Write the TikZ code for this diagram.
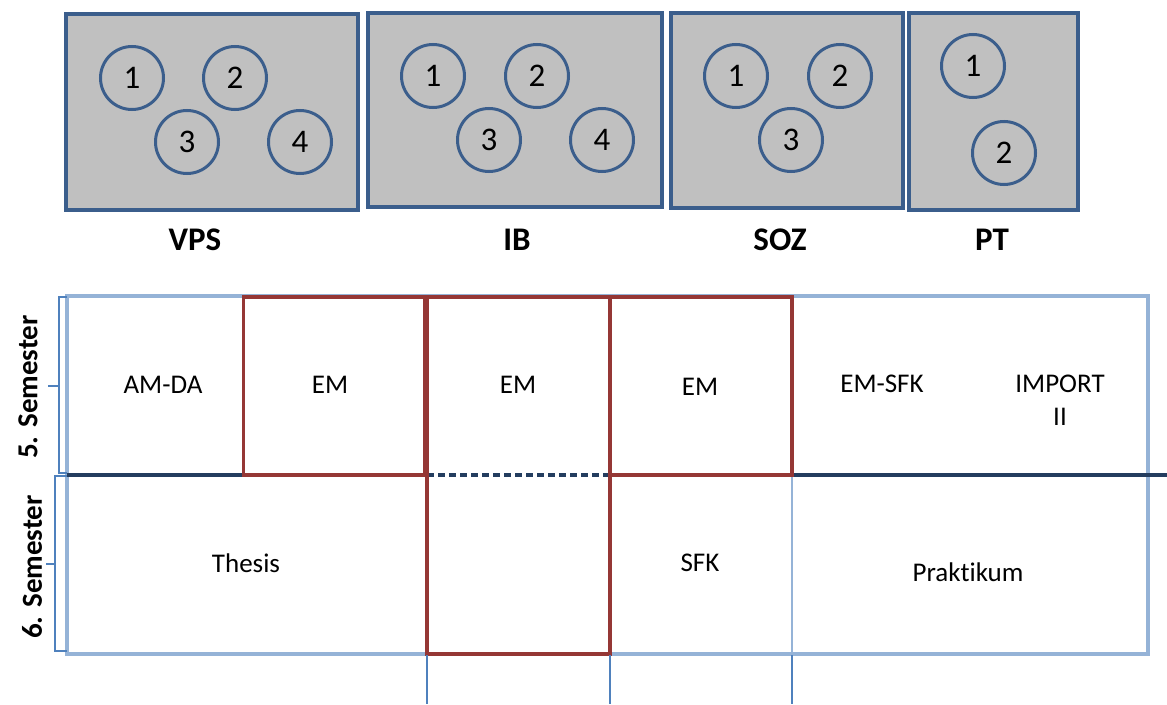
\documentclass[tikz,border=0pt]{standalone}
\usepackage{fontspec}
\setmainfont{Carlito}[Ligatures=NoCommon]
\usetikzlibrary{positioning}
\definecolor{fakblau}{RGB}{59,94,140}
\definecolor{fakgrau}{RGB}{192,192,192}
\definecolor{hellblau}{RGB}{149,179,215}
\definecolor{mittelblau}{RGB}{79,129,189}
\definecolor{dunkelblau}{RGB}{36,61,95}
\definecolor{emrot}{RGB}{149,55,53}

\begin{document}
\begin{tikzpicture}[x=1pt,y=-1pt]
\tikzstyle{fak}=[rectangle,draw=fakblau,fill=fakgrau,line width=4pt,inner sep=0pt]
\tikzstyle{modul}=[circle,draw=fakblau,line width=3pt,minimum size=63pt,inner sep=0pt,font=\fontsize{33}{36}\selectfont]
\tikzstyle{fakname}=[font=\bfseries\fontsize{33}{36}\selectfont]
\tikzstyle{zelle}=[font=\fontsize{27}{33}\selectfont,align=center]
\tikzstyle{em}=[rectangle,draw=emrot,line width=3.5pt,inner sep=0pt]
\tikzstyle{sem}=[font=\bfseries\fontsize{29}{32}\selectfont,rotate=90]
\tikzstyle{klammer}=[draw=mittelblau,line width=1.5pt]

\useasboundingbox (0,0) rectangle (1167,704);

\node[fak,minimum width=292,minimum height=196] (vps) at (212,112) {};
\node[fak,minimum width=294,minimum height=194] (ib) at (515,110) {};
\node[fak,minimum width=232,minimum height=195] (soz) at (787,110) {};
\node[fak,minimum width=169,minimum height=197] (pt) at (993.5,111.5) {};

\node[modul] (vps1) at (132,78) {1};
\node[modul] (vps2) at (235,78) {2};
\node[modul] (vps3) at (187,142) {3};
\node[modul] (vps4) at (300,142) {4};
\node[modul] (ib1) at (433,76) {1};
\node[modul] (ib2) at (537,76) {2};
\node[modul] (ib3) at (489,140) {3};
\node[modul] (ib4) at (602,140) {4};
\node[modul] (soz1) at (736,76) {1};
\node[modul] (soz2) at (840,76) {2};
\node[modul] (soz3) at (791,140) {3};
\node[modul] (pt1) at (973,66) {1};
\node[modul] (pt2) at (1004,153) {2};

\node[fakname] (vpsname) at (195,240) {VPS};
\node[fakname] (ibname) at (517,240) {IB};
\node[fakname] (sozname) at (780,240) {SOZ};
\node[fakname] (ptname) at (992,240) {PT};

\node[rectangle,draw=hellblau,line width=3.5pt,minimum width=1081,minimum height=358,inner sep=0pt] (plan) at (607.5,475) {};
\draw[hellblau,line width=1.5pt] (792,475) -- (792,655);
\draw[dunkelblau,line width=3.5pt] (67,475) -- (427,475);
\draw[dunkelblau,line width=3.5pt] (610,475) -- (1167,475);
\draw[dunkelblau,line width=3.5pt,dash pattern=on 7pt off 4pt] (427,475) -- (610,475);

\node[em,minimum width=181,minimum height=178] (em1) at (334,386) {};
\node[em,minimum width=183,minimum height=357] (em2) at (518.5,475.5) {};
\node[em,minimum width=182,minimum height=178] (em3) at (701,386) {};

\draw[mittelblau,line width=1.5pt] (427,655) -- (427,704);
\draw[mittelblau,line width=1.5pt] (610,655) -- (610,704);
\draw[mittelblau,line width=1.5pt] (792,655) -- (792,704);

\node[zelle] (amda) at (163,385) {AM-DA};
\node[zelle] (emvps) at (330,385) {EM};
\node[zelle] (emib) at (518,385) {EM};
\node[zelle] (emsoz) at (700,387) {EM};
\node[zelle] (emsfk) at (882,384) {EM-SFK};
\node[zelle] (import) at (1060,400) {IMPORT\\II};
\node[zelle] (thesis) at (246,563) {Thesis};
\node[zelle] (sfk) at (700,563) {SFK};
\node[zelle] (praktikum) at (968,572) {Praktikum};

\draw[klammer] (67,297) -- (59,297) -- (59,473) -- (67,473);
\draw[klammer] (59,386) -- (48,386);
\draw[klammer] (67,476) -- (55,476) -- (55,651) -- (67,651);
\draw[klammer] (55,564) -- (46,564);
\node[sem] (sem5) at (28,387) {5. Semester};
\node[sem] (sem6) at (32,567) {6. Semester};
\end{tikzpicture}
\end{document}
